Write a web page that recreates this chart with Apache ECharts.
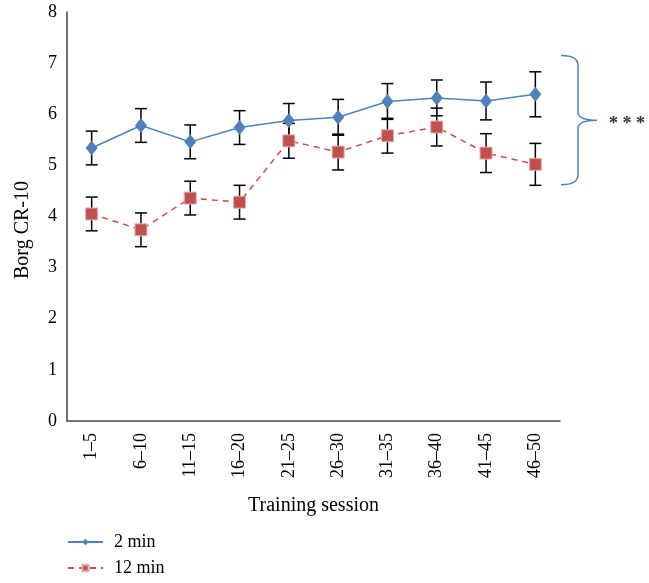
<!DOCTYPE html>
<html>
<head>
<meta charset="utf-8">
<script src="https://cdn.jsdelivr.net/npm/echarts@6/dist/echarts.min.js"></script>
<style>
html,body{margin:0;padding:0;background:#fff;}
#chart{width:649px;height:583px;}
</style>
</head>
<body>
<div id="chart"></div>
<script>
const categories = ['1–5','6–10','11–15','16–20','21–25','26–30','31–35','36–40','41–45','46–50'];
const yTicks = [0,1,2,3,4,5,6,7,8];
const seriesNames = ['2 min','12 min'];
const mean2 = [5.34,5.78,5.46,5.74,5.88,5.94,6.25,6.32,6.26,6.39];
const err2  = [0.33,0.33,0.33,0.33,0.33,0.35,0.35,0.35,0.37,0.44];
const mean12 = [4.05,3.74,4.36,4.28,5.48,5.26,5.58,5.75,5.24,5.02];
const err12  = [0.33,0.33,0.33,0.33,0.34,0.35,0.34,0.37,0.38,0.41];
const braceRange = [7.15, 4.62];
const braceLabel = '* * *';

const FONT = '"Liberation Serif", "DejaVu Serif", serif';
const chart = echarts.init(document.getElementById('chart'), null, {renderer:'canvas'});

function errData(means, errs){
  return means.map((m,i)=>[i, m-errs[i], m+errs[i]]);
}
function errSeries(means, errs){
  return {
    type:'custom',
    z:1,
    silent:true,
    data: errData(means, errs),
    encode:{x:0, y:[1,2]},
    renderItem:function(params, api){
      const x = api.value(0);
      const lo = api.coord([x, api.value(1)]);
      const hi = api.coord([x, api.value(2)]);
      const w = 6;
      const st = {stroke:'#000', lineWidth:1.5};
      return {type:'group', children:[
        {type:'line', shape:{x1:hi[0],y1:hi[1],x2:lo[0],y2:lo[1]}, style:st},
        {type:'line', shape:{x1:hi[0]-w,y1:hi[1],x2:hi[0]+w,y2:hi[1]}, style:st},
        {type:'line', shape:{x1:lo[0]-w,y1:lo[1],x2:lo[0]+w,y2:lo[1]}, style:st}
      ]};
    }
  };
}

const braceSeries = {
  type:'custom', silent:true, clip:false, z:2,
  data:[[0, braceRange[0], braceRange[1]]],
  encode:{x:0, y:[1,2]},
  renderItem:function(params, api){
    const cs = params.coordSys;
    const right = cs.x + cs.width;
    const yTop = api.coord([0, api.value(1)])[1];
    const yBot = api.coord([0, api.value(2)])[1];
    const yMid = (yTop + yBot)/2;
    const x0 = right + 1, x1 = right + 18, x2 = right + 37;
    const path = 'M'+x0+' '+yTop+
      ' Q'+x1+' '+yTop+' '+x1+' '+(yTop+10)+
      ' L'+x1+' '+(yMid-8)+
      ' Q'+x1+' '+yMid+' '+x2+' '+yMid+
      ' Q'+x1+' '+yMid+' '+x1+' '+(yMid+8)+
      ' L'+x1+' '+(yBot-10)+
      ' Q'+x1+' '+yBot+' '+x0+' '+yBot;
    return {type:'group', children:[
      {type:'path', shape:{pathData:path}, style:{fill:null, stroke:'#4F81BD', lineWidth:1.5}},
      {type:'text', x:right+49, y:yMid+4, style:{text:braceLabel, fontFamily:FONT, fontSize:18, fontWeight:'bold', fill:'#333', verticalAlign:'middle', align:'left'}}
    ]};
  }
};

const option = {
  animation:false,
  backgroundColor:'#fff',
  grid:{left:67, right:89, top:12, bottom:162, containLabel:false, outerBoundsMode:'none'},
  legend:{
    orient:'vertical', left:67, top:533, padding:0, itemWidth:35, itemHeight:8, itemGap:8,
    textStyle:{fontFamily:FONT, fontSize:18, color:'#000', padding:[0,0,0,6]},
    data:seriesNames
  },
  xAxis:{
    type:'category', data:categories, boundaryGap:true,
    axisLine:{lineStyle:{color:'#444', width:1.5}},
    axisTick:{show:false},
    axisLabel:{rotate:90, fontFamily:FONT, fontSize:18, color:'#000', margin:12, interval:0},
    name:'Training session', nameLocation:'middle', nameGap:75,
    nameTextStyle:{fontFamily:FONT, fontSize:20, color:'#000'}
  },
  yAxis:{
    type:'value', min:0, max:8, interval:1,
    axisLine:{show:true, lineStyle:{color:'#444', width:1.5}},
    axisTick:{show:false},
    splitLine:{show:false},
    axisLabel:{fontFamily:FONT, fontSize:18, color:'#000', margin:10,
      formatter:function(v){return yTicks.indexOf(v)>=0 ? String(v) : '';}},
    name:'Borg CR-10', nameLocation:'middle', nameGap:34,
    nameTextStyle:{fontFamily:FONT, fontSize:20, color:'#000', padding:[0,27,0,0]}
  },
  series:[
    errSeries(mean2, err2),
    errSeries(mean12, err12),
    braceSeries,
    {
      name:seriesNames[0], type:'line', data:mean2, z:3,
      symbol:'diamond', symbolSize:[12,15],
      lineStyle:{color:'#4F81BD', width:1.5},
      itemStyle:{color:'#4F81BD'}
    },
    {
      name:seriesNames[1], type:'line', data:mean12, z:3,
      symbol:'rect', symbolSize:12,
      lineStyle:{color:'#C0504D', width:1.5, type:[6,5]},
      itemStyle:{color:'#C0504D', borderColor:'#E6B0AE', borderWidth:1}
    }
  ]
};
chart.setOption(option);
</script>
</body>
</html>
